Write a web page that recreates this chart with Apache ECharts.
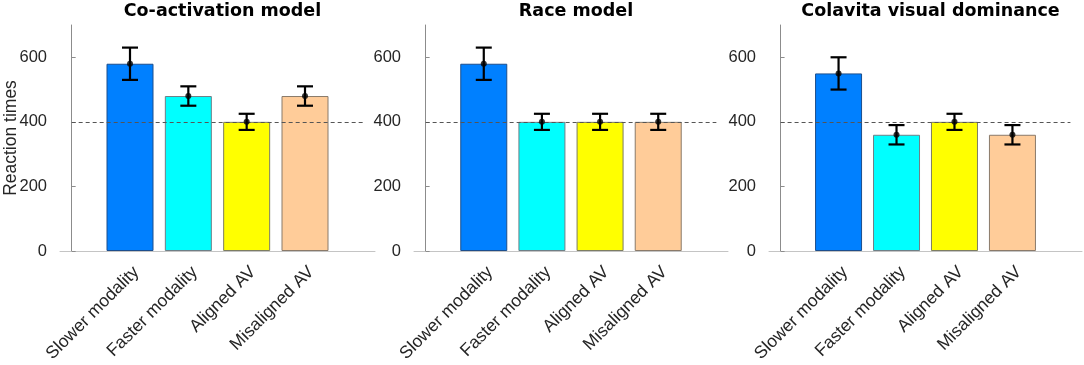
<!DOCTYPE html>
<html>
<head>
<meta charset="utf-8">
<script src="https://cdn.jsdelivr.net/npm/echarts@6/dist/echarts.min.js"></script>
<style>
html,body{margin:0;padding:0;background:#fff;}
#chart{width:1084px;height:365px;}
</style>
</head>
<body>
<div id="chart"></div>
<script>
// ---- data ----
const categories = ['Slower modality', 'Faster modality', 'Aligned AV', 'Misaligned AV'];
const panelTitles = ['Co-activation model', 'Race model', 'Colavita visual dominance'];
const coactivationMeans = [580, 480, 400, 480];
const coactivationErrors = [50, 30, 25, 30];
const raceMeans = [580, 400, 400, 400];
const raceErrors = [50, 25, 25, 25];
const colavitaMeans = [550, 360, 400, 360];
const colavitaErrors = [50, 30, 25, 30];
const yTicks = [0, 200, 400, 600];
const yMax = 700;
const referenceLevel = 400;
const yAxisName = 'Reaction times';

// ---- styles ----
const barColors = ['#0080ff', '#00ffff', '#ffff00', '#ffcc99'];
const barEdges = ['#1d4e8c', '#6f7f86', '#7d7d62', '#8a7a6a'];
const fontFamily = 'Liberation Sans, Arial, sans-serif';
const titleFont = 'DejaVu Sans, Liberation Sans, sans-serif';
const grids = [
  {left: 60, top: 25, width: 315, height: 226, outerBoundsMode: 'none', containLabel: false},
  {left: 414, top: 25, width: 314, height: 226, outerBoundsMode: 'none', containLabel: false},
  {left: 769, top: 25, width: 313, height: 226, outerBoundsMode: 'none', containLabel: false}
];
const panels = [
  {means: coactivationMeans, errors: coactivationErrors},
  {means: raceMeans, errors: raceErrors},
  {means: colavitaMeans, errors: colavitaErrors}
];
const xPositions = categories.map((c, i) => i + 1);

const option = {
  animation: false,
  backgroundColor: '#ffffff',
  title: [],
  grid: grids,
  xAxis: [],
  yAxis: [],
  series: [],
  graphic: [{
    type: 'text',
    x: 11,
    y: grids[0].top + grids[0].height / 2,
    rotation: Math.PI / 2,
    silent: true,
    style: {
      text: yAxisName,
      font: '17.5px ' + fontFamily,
      fill: '#262626',
      align: 'center',
      verticalAlign: 'middle'
    }
  }]
};

panels.forEach((p, k) => {
  const g = grids[k];
  option.title.push({
    text: panelTitles[k],
    left: g.left + g.width / 2,
    top: -3,
    textAlign: 'center',
    textStyle: {fontFamily: titleFont, fontSize: 17.5, fontWeight: 'bold', color: '#000'}
  });
  option.xAxis.push({
    gridIndex: k,
    type: 'value',
    min: -0.2,
    max: 5.2,
    axisLine: {show: true, lineStyle: {color: '#c4c4c4', width: 1}},
    axisTick: {show: false},
    splitLine: {show: false},
    axisLabel: {
      customValues: xPositions,
      formatter: v => categories[Math.round(v) - 1] || '',
      rotate: 45,
      verticalAlign: 'top',
      fontFamily, fontSize: 17.5, color: '#262626', margin: 12
    }
  });
  option.yAxis.push({
    gridIndex: k,
    type: 'value',
    min: 0,
    max: yMax,
    axisLine: {show: true, lineStyle: {color: '#8c8c8c', width: 1}},
    axisTick: {show: true, inside: true, length: 4, customValues: yTicks, lineStyle: {color: '#8c8c8c'}},
    splitLine: {show: false},
    axisLabel: {customValues: yTicks, fontFamily, fontSize: 16.5, color: '#262626', margin: 13}
  });
  // reference dashed line (behind bars)
  option.series.push({
    type: 'line',
    xAxisIndex: k, yAxisIndex: k,
    data: [],
    z: 1,
    silent: true,
    markLine: {
      silent: true,
      symbol: 'none',
      label: {show: false},
      lineStyle: {type: [4, 3], color: '#555555', width: 1},
      data: [[{coord: [0, referenceLevel]}, {coord: [5, referenceLevel]}]]
    }
  });
  option.series.push({
    type: 'bar',
    xAxisIndex: k, yAxisIndex: k,
    barWidth: 47,
    z: 2,
    data: p.means.map((m, i) => ({
      value: [xPositions[i], m],
      itemStyle: {color: barColors[i], borderColor: barEdges[i], borderWidth: 1}
    }))
  });
  option.series.push({
    type: 'custom',
    xAxisIndex: k, yAxisIndex: k,
    z: 5,
    data: p.means.map((m, i) => [xPositions[i], m - p.errors[i], m + p.errors[i]]),
    renderItem: (params, api) => {
      const x = api.value(0);
      const lo = api.coord([x, api.value(1)]);
      const hi = api.coord([x, api.value(2)]);
      const half = 8;
      const style = {stroke: '#000', lineWidth: 2.2, fill: null};
      return {
        type: 'group',
        children: [
          {type: 'line', shape: {x1: lo[0], y1: lo[1], x2: hi[0], y2: hi[1]}, style},
          {type: 'line', shape: {x1: lo[0] - half, y1: lo[1], x2: lo[0] + half, y2: lo[1]}, style},
          {type: 'line', shape: {x1: hi[0] - half, y1: hi[1], x2: hi[0] + half, y2: hi[1]}, style}
        ]
      };
    }
  });
  option.series.push({
    type: 'scatter',
    xAxisIndex: k, yAxisIndex: k,
    z: 6,
    symbol: 'circle',
    symbolSize: 6,
    itemStyle: {color: '#000'},
    data: p.means.map((m, i) => [xPositions[i], m])
  });
});

const chart = echarts.init(document.getElementById('chart'), null, {renderer: 'canvas'});
chart.setOption(option);
</script>
</body>
</html>
